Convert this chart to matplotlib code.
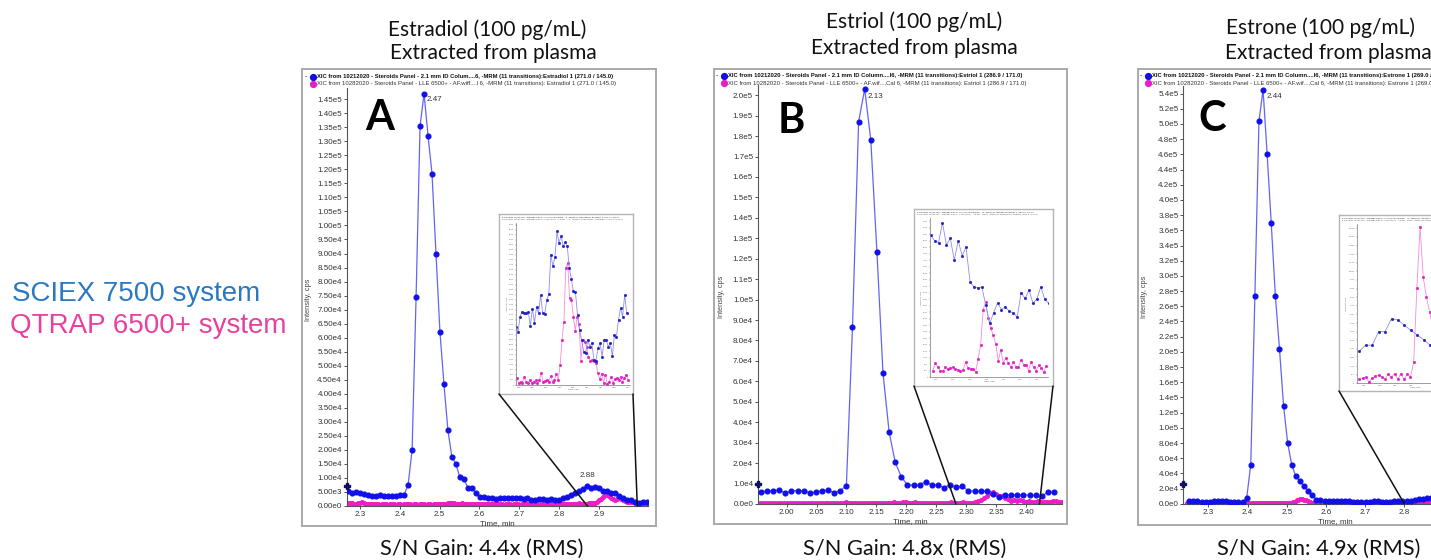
import numpy as np
import matplotlib
matplotlib.use("Agg")
import matplotlib.pyplot as plt
from matplotlib.patches import ConnectionPatch
from matplotlib.lines import Line2D

W, H = 1431, 560

# ---------------- text ----------------
legend_labels = ["SCIEX 7500 system", "QTRAP 6500+ system"]
title_lines = [("Estradiol (100 pg/mL)", "Extracted from plasma"),
               ("Estriol (100 pg/mL)", "Extracted from plasma"),
               ("Estrone (100 pg/mL)", "Extracted from plasma")]
sn_labels = ["S/N Gain: 4.4x (RMS)", "S/N Gain: 4.8x (RMS)", "S/N Gain: 4.9x (RMS)"]
panel_letters = ["A", "B", "C"]
hdr_blue = ["XIC from 10212020 - Steroids Panel - 2.1 mm ID Colum....6, -MRM (11 transitions):Estradiol 1 (271.0 / 145.0)",
            "XIC from 10212020 - Steroids Panel - 2.1 mm ID Column....l6, -MRM (11 transitions):Estriol 1 (286.9 / 171.0)",
            "XIC from 10212020 - Steroids Panel - 2.1 mm ID Column....l6, -MRM (11 transitions):Estrone 1 (269.0 / 145.0)"]
hdr_pink = ["XIC from 10282020 - Steroids Panel - LLE 6500+ - AF.wiff....l 6, -MRM (11 transitions): Estradiol 1 (271.0 / 145.0)",
            "XIC from 10282020 - Steroids Panel - LLE 6500+ - AF.wif....Cal 6, -MRM (11 transitions): Estriol 1 (286.9 / 171.0)",
            "XIC from 10282020 - Steroids Panel - LLE 6500+ - AF.wif....Cal 6, -MRM (11 transitions): Estrone 1 (269.0 / 145.0)"]

# ---------------- Panel A : Estradiol ----------------
a_blue_t0, a_blue_dt = 2.271, 0.0100
a_blue = [5200, 4800, 5000, 4800, 4400, 4000, 3700, 3500, 3800, 3500,
          3600, 3500, 3400, 3800, 4000, 7600, 20000, 74500, 135500, 147000,
          132000, 118500, 90000, 62000, 43500, 27000, 17500, 15000, 10200, 9700,
          6500, 6500, 4500, 3300, 3200, 3000, 2900, 2600, 2800, 2900,
          2700, 2700, 2800, 2800, 2600, 2700, 2200, 2300, 2500, 2400,
          2200, 2500, 2200, 2300, 3000, 3200, 3800, 4500, 5300, 6200,
          7200, 6300, 6600, 6500, 5400, 5400, 4600, 4600, 3500, 2700,
          2100, 2200, 1500, 1000, 1300, 1400]
a_pink_t0, a_pink_dt = 2.271, 0.005
a_pink = [1000, 900, 1100, 800, 700, 900, 1000, 1500, 1200, 800,
          700, 600, 800, 700, 600, 700, 500, 600, 700, 600,
          500, 600, 700, 600, 500, 700, 600, 500, 600, 800,
          700, 600, 500, 600, 700, 500, 600, 700, 600, 500,
          600, 700, 500, 600, 700, 600, 800, 700, 600, 700,
          900, 1000, 1100, 900, 800, 700, 800, 900, 800, 700,
          700, 600, 700, 800, 700, 600, 700, 800, 700, 600,
          700, 600, 700, 800, 700, 600, 700, 600, 500, 600,
          700, 600, 500, 600, 700, 600, 500, 600, 700, 600,
          700, 600, 500, 600, 700, 600, 500, 600, 700, 600,
          500, 600, 700, 600, 500, 600, 700, 600, 700, 800,
          700, 600, 700, 800, 700, 800, 900, 800, 700, 800,
          800, 900, 900, 1000, 1200, 1500, 2000, 2600, 3200, 4400,
          4000, 3400, 2900, 2600, 2300, 2500, 2700, 2400, 2100, 1800,
          1500, 1400, 1300, 1300, 1200, 1000, 900, 1000, 1100, 1200, 1200]
a_inset_blue = [3500, 3200, 4100, 4400, 4340, 4300, 4360, 3540, 4560, 3740,
                4660, 4300, 5400, 4300, 4240, 5100, 5440, 7800, 7100, 7660,
                9200, 8500, 8940, 8300, 8540, 8300, 7000, 6340, 5600, 5540,
                4200, 3300, 2700, 2000, 1900, 2700, 2300, 2500, 1500, 1460,
                2200, 2500, 1700, 2700, 2700, 2300, 2500, 1740, 3000, 2900,
                3900, 4600, 4100, 5400, 4300]
a_inset_pink = [400, 140, 200, 100, 500, 200, 140, 300, 140, 200,
                300, 140, 300, 700, 200, 260, 300, 200, 540, 200,
                300, 660, 300, 1200, 2700, 3800, 7000, 7300, 5200, 5100,
                4100, 3260, 4060, 3660, 1460, 2700, 2600, 2300, 1700, 1440,
                1500, 1460, 1300, 740, 340, 660, 140, 620, 60, 200,
                500, 140, 340, 400, 300, 500, 200, 400, 620, 300]

# ---------------- Panel B : Estriol ----------------
b_blue_t0, b_blue_dt = 1.9571, 0.0102
b_blue = [5900, 6200, 6500, 7000, 5200, 6500, 6500, 6500, 5400, 5900,
          6500, 6700, 5500, 6500, 9000, 86500, 187000, 203000, 178000, 123400,
          64000, 35200, 20400, 13200, 9300, 9300, 9300, 11000, 9100, 9500,
          8000, 9500, 8300, 8600, 6500, 6200, 6200, 6200, 5100, 3400,
          4200, 4600, 4200, 4600, 4200, 4200, 3700, 5900, 5700]
b_pink_t0, b_pink_dt = 1.955, 0.005
b_pink = [400, 500, 400, 300, 500, 400, 400, 500, 400, 300,
          400, 500, 400, 400, 500, 400, 300, 400, 500, 400,
          400, 500, 400, 300, 500, 600, 500, 400, 500, 900,
          700, 600, 500, 600, 500, 400, 500, 600, 500, 600,
          700, 600, 500, 600, 700, 800, 600, 700, 900, 800,
          700, 600, 900, 700, 600, 500, 600, 500, 600, 700,
          600, 500, 600, 700, 800, 600, 500, 600, 800, 700,
          700, 700, 1000, 1300,
          1800, 2900, 3700, 5400, 5700, 4900, 4000, 3700, 2900, 2400,
          1300, 2100, 1300, 1800, 1300, 1100, 1300, 900, 1000, 1400,
          800, 1200, 1100, 800, 1500, 1300, 1000, 1000]
b_inset_blue = [8740, 8400, 8280, 9500, 8140, 8540, 7200, 8400, 7480, 8000,
                5880, 5540, 5500, 5540, 4440, 3300, 3960, 4560, 4160, 4340,
                4040, 3960, 3700, 5200, 4840, 5360, 4560, 4800, 5560, 4800, 4540]
b_inset_pink = [360, 840, 640, 400, 360, 600, 520, 560, 600, 500,
                440, 400, 420, 900, 560, 520, 500, 300, 1140, 1960,
                4140, 4640, 3640, 3000, 2600, 2040, 1000, 1680, 880, 1160,
                880, 600, 900, 600, 600, 1040, 760, 760, 400, 920,
                600, 400, 720, 560, 300, 700]

# ---------------- Panel C : Estrone ----------------
c_blue_t0, c_blue_dt = 2.2514, 0.01046
c_blue = [3500, 3500, 3900, 2600, 2600, 2600, 3100, 3100, 3100, 3100,
          2600, 2600, 2600, 2600, 7400, 51500, 273000, 504000, 545000, 460000,
          369000, 274000, 204000, 129000, 80000, 51000, 36000, 30000, 23000, 17500,
          12000, 5500, 4800, 4300, 3900, 3500, 3500, 3100, 3100, 3100,
          2600, 2600, 2600, 2600, 2600, 3100, 3100, 2600, 2600, 2600,
          3100, 3100, 3100, 3100, 3500, 4800, 6500, 6500, 7400, 7000,
          6500, 6100, 5700, 5200, 4800, 4400, 4400, 3900, 3500, 3500, 3100, 3100, 3100]
c_pink_t0, c_pink_dt = 2.245, 0.005
c_pink = [900, 800, 900, 1000, 900, 800, 900, 800, 900, 1000,
          900, 800, 700, 800, 900, 800, 900, 800, 700, 800,
          900, 800, 900, 800, 700, 800, 900, 1000, 900, 800,
          900, 800, 900, 1000, 1100, 1000, 900, 1000, 1100, 1200,
          1100, 1000, 1100, 1200, 1100, 1000, 1100, 1200, 1300, 1200,
          1100, 1200, 1300, 1500,
          1900, 2800, 4600, 5400, 5700, 5800, 5600, 4900, 3600, 2600, 1700, 1100,
          900, 800, 900, 800, 700, 800, 900, 800, 700, 800,
          900, 800, 700, 800, 900, 800, 700, 800, 900, 800,
          700, 800, 900, 800, 700, 800, 900, 1000, 900, 800,
          700, 800, 900, 800, 700, 800, 900, 800, 700, 800,
          900, 800, 700, 800, 900, 800, 700, 800, 900, 1000,
          900, 1000, 1100, 1000, 900, 1000, 1100, 1200, 1100, 1000,
          1100, 1200, 1300, 1200, 1100, 1200, 1300, 1500, 1700, 1900,
          2200, 2600, 3000, 2800, 2500, 2200, 1900, 1600, 1400, 1200,
          1100, 1000, 1000, 900, 900, 1000, 900, 900]
c_inset_blue = [3000, 3540, 3540, 4800, 4800, 6000, 5880, 5400, 4920, 4500,
                4050, 3540, 3200, 2900, 3100, 2800, 3000, 2700]
c_inset_pink = [360, 450, 540, 150, 450, 660, 750, 600, 360, 840,
                540, 900, 390, 900, 360, 900, 600, 1950, 8850, 14550,
                9840, 8010, 6600, 5200, 4100, 3300, 2600, 2000, 1600, 1300,
                1100, 900, 1000, 800, 900]

# ---------------- style ----------------
BLUE_TXT = "#2a78c2"
PINK_TXT = "#e8409f"
B_MK, B_LN = "#1010ea", "#6464f4"
P_MK, P_LN = "#f01cc6", "#f25ad6"
SW = "Liberation Sans"

fig = plt.figure(figsize=(W / 100, H / 100), dpi=100)
fig.patch.set_facecolor("white")


def rect(x0, y0, x1, y1):
    return [x0 / W, 1 - y1 / H, (x1 - x0) / W, (y1 - y0) / H]


def ptxt(x, y, s, **kw):
    return fig.text(x / W, 1 - y / H, s, **kw)


def sci(v, dec):
    if v == 0:
        return f"{0:.{dec}f}e0"
    e = int(np.floor(np.log10(v) + 1e-9))
    m = v / 10 ** e
    return f"{m:.{dec}f}e{e}"


panels = [
    dict(frame=(302, 69, 656, 526), axbox=(346.7, 88, 648, 506),
         xlim=(2.2666, 3.0239), ylim=(0, 1.49e5),
         yticks=np.arange(0, 1.45e5 + 1, 5e3), ydec=2,
         xticks=np.arange(2.3, 2.95, 0.1), xdec=1,
         blue=(a_blue_t0, a_blue_dt, a_blue), pink=(a_pink_t0, a_pink_dt, a_pink),
         apex=[(19, "2.47", 3, -6, "left"), (60, "2.88", 0, 10, "center")],
         cursor=7100, letter_xy=(379.5, 130), ylab_xy=(309, 300),
         hdr_xy=(306, 76.5), title_xy=[(487, 30), (493, 53)], sn_xy=(482, 549),
         inset=dict(frame=(499, 214, 633, 394), axbox=(516, 223, 630, 385),
                    xlim=(2.872, 2.997), ylim=(0, 9700),
                    blue_t=(2.872, 2.9934), pink_t=(2.8728, 2.9949),
                    blue=a_inset_blue, pink=a_inset_pink,
                    xt=np.arange(2.875, 2.995, 0.015), ystep=300,
                    zoom=(2.8717, 2.997))),
    dict(frame=(714, 69, 1067, 524), axbox=(758, 85, 1062, 504),
         xlim=(1.9522, 2.4602), ylim=(0, 2.05e5),
         yticks=np.arange(0, 2.0e5 + 1, 1e4), ydec=1,
         xticks=np.arange(2.0, 2.41, 0.05), xdec=2,
         blue=(b_blue_t0, b_blue_dt, b_blue), pink=(b_pink_t0, b_pink_dt, b_pink),
         apex=[(17, "2.13", 3, -7, "left")],
         cursor=10000, letter_xy=(791.5, 133), ylab_xy=(721, 297),
         hdr_xy=(717, 75.5), title_xy=[(914, 22), (914, 48)], sn_xy=(905, 549),
         inset=dict(frame=(914, 209, 1053, 386), axbox=(930, 218, 1048, 377),
                    xlim=(2.283, 2.4225), ylim=(0, 9800),
                    blue_t=(2.2838, 2.4233), pink_t=(2.2862, 2.4204),
                    blue=b_inset_blue, pink=b_inset_pink,
                    xt=np.arange(2.29, 2.42, 0.02), ystep=400,
                    zoom=(2.283, 2.4225))),
    dict(frame=(1138, 69, 1492, 525), axbox=(1183.3, 86, 1486.7, 503.8),
         xlim=(2.2362, 3.0102), ylim=(0, 5.5e5),
         yticks=np.arange(0, 5.4e5 + 1, 2e4), ydec=1,
         xticks=np.arange(2.3, 2.85, 0.1), xdec=1,
         blue=(c_blue_t0, c_blue_dt, c_blue), pink=(c_pink_t0, c_pink_dt, c_pink),
         apex=[(18, "2.44", 4, -7, "left")],
         cursor=26600, letter_xy=(1212.5, 131), ylab_xy=(1145, 297),
         hdr_xy=(1141, 75.5), title_xy=[(1320, 28), (1328, 53)], sn_xy=(1319, 549),
         inset=dict(frame=(1339, 215, 1476, 391), axbox=(1356.7, 224, 1473, 383.3),
                    xlim=(2.80, 2.95), ylim=(0, 14800),
                    blue_t=(2.8034, 2.9445), pink_t=(2.8034, 2.9436),
                    blue=c_inset_blue, pink=c_inset_pink,
                    xt=np.arange(2.81, 2.88, 0.02), ystep=800,
                    zoom=(2.80, None))),
]

# left legend labels
ptxt(12, 294, legend_labels[0], fontsize=20, color=BLUE_TXT, family=SW, ha="left", va="center")
ptxt(10, 326, legend_labels[1], fontsize=20, color=PINK_TXT, family=SW, ha="left", va="center")

for k, p in enumerate(panels):
    # titles and S/N
    for (tx, ty), line in zip(p["title_xy"], title_lines[k]):
        ptxt(tx, ty, line, fontsize=15, family="Lato", ha="center", va="center", color="#111")
    ptxt(p["sn_xy"][0], p["sn_xy"][1], sn_labels[k], fontsize=15.7, family="Lato",
         ha="center", va="center", color="#111")

    # frame
    fa = fig.add_axes(rect(*p["frame"]), zorder=0)
    fa.set_xticks([]); fa.set_yticks([])
    for s in fa.spines.values():
        s.set_color("#a9a9a9"); s.set_linewidth(1.4)

    # header legend
    hx, hy = p["hdr_xy"]
    ptxt(hx, hy, "-", fontsize=5, color="#333", family=SW, ha="center", va="center")
    fig.add_artist(Line2D([(hx + 7) / W], [1 - hy / H], marker="o", ms=4.2, color="#1010e0",
                          transform=fig.transFigure))
    fig.add_artist(Line2D([(hx + 7) / W], [1 - (hy + 7.5) / H], marker="o", ms=4.2, color="#e020c8",
                          transform=fig.transFigure))
    ptxt(hx + 11, hy, hdr_blue[k], fontsize=4.25, fontweight="bold", color="#111", family=SW,
         ha="left", va="center")
    ptxt(hx + 11, hy + 7.5, hdr_pink[k], fontsize=4.3, color="#333", family=SW,
         ha="left", va="center")

    # main axes
    ax = fig.add_axes(rect(*p["axbox"]), zorder=1)
    ax.patch.set_visible(False)
    bt0, bdt, bv = p["blue"]
    pt0, pdt, pv = p["pink"]
    bt = bt0 + bdt * np.arange(len(bv))
    pt = pt0 + pdt * np.arange(len(pv))
    ax.plot(pt, pv, "-", color=P_LN, lw=1.8, marker="o", ms=2.6, mfc=P_MK, mec=P_MK, zorder=2)
    ax.plot(bt, bv, "-", color=B_LN, lw=0.9, marker="o", ms=3.4, mfc=B_MK, mec=B_MK, zorder=3)
    ax.set_xlim(*p["xlim"]); ax.set_ylim(*p["ylim"])
    for s in ["top", "right"]:
        ax.spines[s].set_visible(False)
    for s in ["left", "bottom"]:
        ax.spines[s].set_color("#555"); ax.spines[s].set_linewidth(0.8)
    ax.set_yticks(p["yticks"])
    ax.set_yticklabels([sci(v, p["ydec"]) for v in p["yticks"]], family=SW)
    ax.set_xticks(p["xticks"])
    ax.set_xticklabels([f"{v:.{p['xdec']}f}" for v in p["xticks"]], family=SW)
    ax.tick_params(labelsize=5.8, length=2, width=0.6, pad=1.5, colors="#333")
    ax.set_xlabel("Time, min", fontsize=5.8, labelpad=1.5, color="#333", family=SW)
    for idx, lab, dx, dy, ha in p["apex"]:
        ax.annotate(lab, (bt[idx], bv[idx]), xytext=(dx, dy), textcoords="offset pixels",
                    fontsize=5.8, ha=ha, va="center", color="#333", family=SW)
    ax.plot([p["xlim"][0]], [p["cursor"]], marker="P", ms=4.5, color="#101060",
            clip_on=False, zorder=5)
    ptxt(p["ylab_xy"][0], p["ylab_xy"][1], "Intensity, cps", rotation=90, fontsize=5.3,
         color="#444", family=SW, ha="center", va="center")
    ptxt(p["letter_xy"][0], p["letter_xy"][1], panel_letters[k], fontsize=30,
         fontweight="bold", family="Lato", ha="center", va="baseline", color="black")

    # inset
    ins = p["inset"]
    fi = fig.add_axes(rect(*ins["frame"]), zorder=5)
    fi.set_xticks([]); fi.set_yticks([])
    fi.set_facecolor("white")
    for s in fi.spines.values():
        s.set_color("#b5b5b5"); s.set_linewidth(1.0)
    fx0, fy0 = ins["frame"][0], ins["frame"][1]
    ptxt(fx0 + 3, fy0 + 3, "\u25aa " + hdr_blue[k], fontsize=1.7, color="#222", family=SW,
         ha="left", va="center", zorder=8)
    ptxt(fx0 + 3, fy0 + 5.5, "\u25aa " + hdr_pink[k], fontsize=1.7, color="#555", family=SW,
         ha="left", va="center", zorder=8)
    ai = fig.add_axes(rect(*ins["axbox"]), zorder=6)
    ai.patch.set_visible(False)
    bti = np.linspace(ins["blue_t"][0], ins["blue_t"][1], len(ins["blue"]))
    pti = np.linspace(ins["pink_t"][0], ins["pink_t"][1], len(ins["pink"]))
    ai.plot(pti, ins["pink"], "-", color="#f58ae0", lw=0.6, marker="s", ms=1.0,
            mfc="#e020c0", mec="#e020c0")
    ai.plot(bti, ins["blue"], "-", color="#8c8cf0", lw=0.6, marker="s", ms=1.0,
            mfc="#2020c0", mec="#2020c0")
    ai.set_xlim(*ins["xlim"]); ai.set_ylim(*ins["ylim"])
    for s in ["top", "right"]:
        ai.spines[s].set_visible(False)
    for s in ["left", "bottom"]:
        ai.spines[s].set_color("#777"); ai.spines[s].set_linewidth(0.5)
    yt = np.arange(0, ins["ylim"][1] + 1, ins["ystep"])
    ai.set_yticks(yt)
    ai.set_yticklabels([f"{int(v)}" for v in yt], family=SW)
    ai.set_xticks(ins["xt"])
    ai.set_xticklabels([f"{v:.2f}" for v in ins["xt"]], family=SW)
    ai.tick_params(labelsize=1.6, length=1, width=0.3, pad=0.5, colors="#666")
    ai.set_xlabel("Time, min", fontsize=1.7, labelpad=0.5, color="#666", family=SW)
    ai.set_ylabel("Intensity, cps", fontsize=1.7, labelpad=1, color="#666", family=SW)

    # connectors
    for fxa, tval in [(0, ins["zoom"][0]), (1, ins["zoom"][1])]:
        if tval is None:
            continue
        con = ConnectionPatch(xyA=(fxa, 0), coordsA=fi.transAxes, xyB=(tval, 0),
                              coordsB=ax.transData, color="#111", lw=1.1, zorder=7)
        fig.add_artist(con)

fig.savefig("out.png", dpi=100, facecolor="white")
